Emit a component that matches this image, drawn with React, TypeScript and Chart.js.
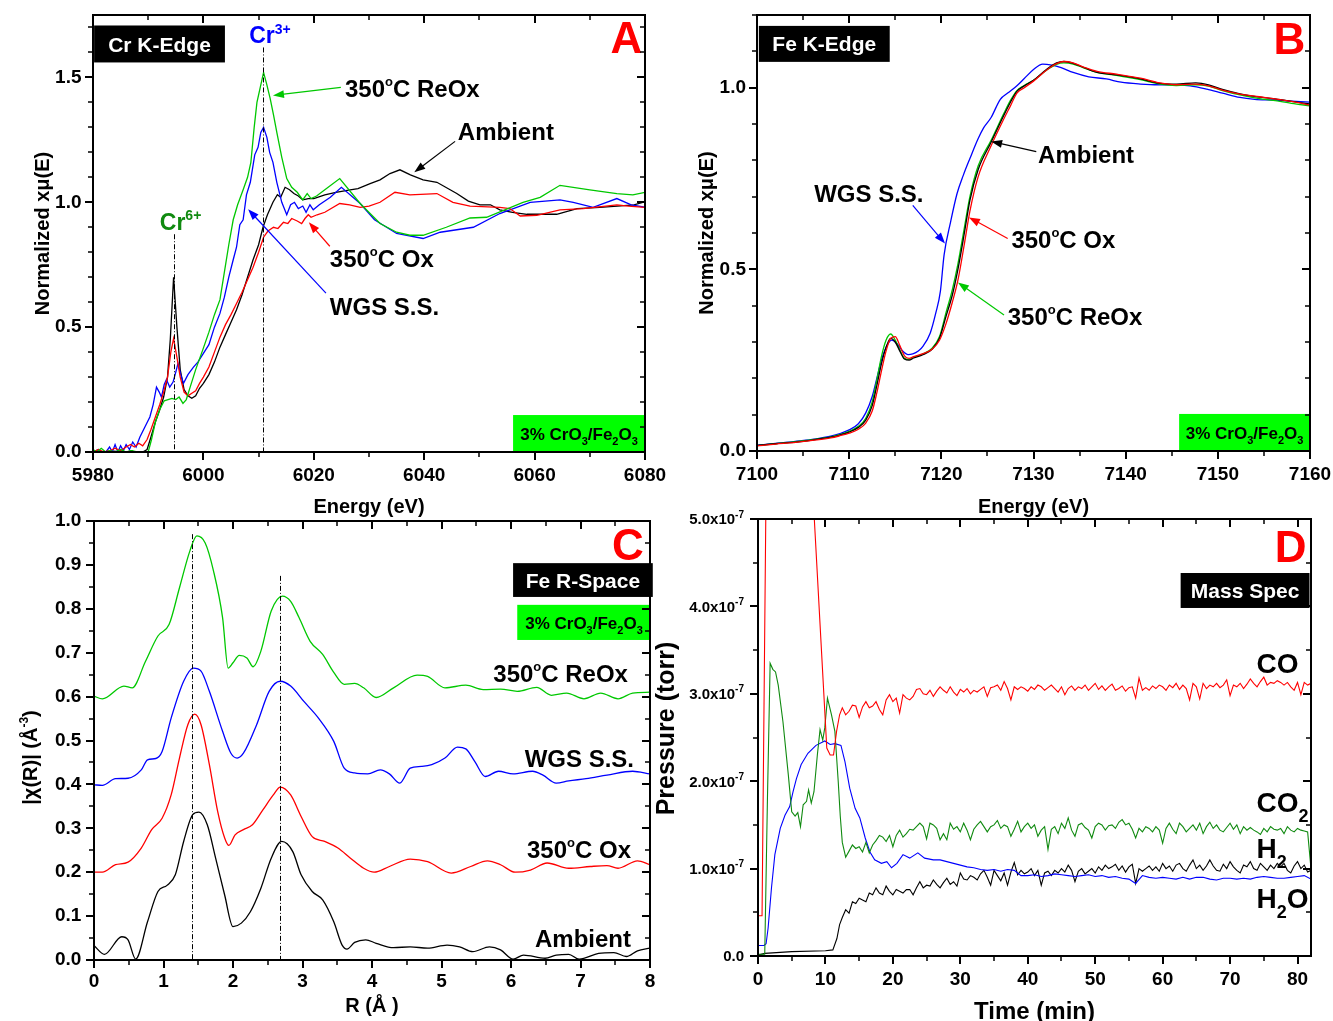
import React, { useEffect, useRef } from "react";
import { Chart, registerables } from "chart.js";
Chart.register(...registerables);

const FONT = '"Liberation Sans", Arial, Helvetica, sans-serif';
const PAGE_W = 1333;
const PAGE_H = 1021;

const RED = "#ff0000";
const BLUE = "#0000ff";
const BLACK = "#000000";
const GREEN = "#00c800";
const DGREEN = "#108a10";
const LIME = "#00ff00";

// ---------------- Panel A : Cr K-edge ----------------
const A_AMB_E = [5980,5981,5982,5983,5984,5985,5986,5987,5988,5989,5989.8,5990.5,5991.3,5992.1,5992.8,5993.5,5994.0,5994.6,5995.2,5995.8,5996.5,5997.2,5997.9,5998.6,5999.3,6000,6001,6002,6003,6004,6005,6006,6007,6008,6009,6010,6010.8,6011.6,6012.6,6013.4,6014,6014.8,6015.6,6016.4,6017.2,6018,6019,6020,6022,6024,6026.6,6028,6030.2,6032,6033.8,6035.6,6037.5,6039.8,6042.3,6045.9,6048,6050.1,6052,6053.7,6056,6058.6,6062,6064,6067.7,6071.8,6075,6078,6079.6,6080];
const A_AMB_V = [0.0,0.005,-0.005,0.0,0.003,-0.01,0.0,0.005,-0.005,0.0,0.01,0.06,0.12,0.17,0.22,0.30,0.45,0.70,0.50,0.33,0.25,0.225,0.215,0.225,0.255,0.275,0.31,0.36,0.42,0.47,0.52,0.57,0.63,0.70,0.77,0.83,0.90,0.95,1.00,1.03,1.02,1.06,1.05,1.035,1.025,1.01,1.015,1.015,1.03,1.04,1.05,1.055,1.075,1.09,1.115,1.13,1.11,1.09,1.08,1.035,1.005,0.99,0.99,0.97,0.96,0.952,0.952,0.952,0.975,0.98,0.985,0.99,1.0,1.0];

const A_OX_E = [5980,5981,5982,5983,5984,5985,5986,5986.8,5987.5,5988.3,5989,5989.8,5990.5,5991.3,5992.1,5992.8,5993.5,5994.1,5994.6,5995.2,5995.8,5996.5,5997.2,5997.9,5998.6,5999.3,6000,6001,6002,6003,6004,6005,6006,6007,6008,6009,6010,6010.9,6011.7,6012.7,6013.5,6014.5,6015.3,6016,6017,6017.8,6018.4,6019,6019.5,6020.6,6022,6024.7,6026.5,6028.4,6030,6032,6034.7,6037.4,6042.3,6045.2,6048.3,6053.7,6055.5,6057.4,6060.4,6064.6,6068.8,6074.9,6077,6080];
const A_OX_V = [0.0,0.01,0.0,0.005,0.015,0.005,0.02,0.03,0.02,0.035,0.025,0.05,0.09,0.14,0.19,0.24,0.30,0.40,0.455,0.38,0.30,0.24,0.225,0.235,0.245,0.275,0.30,0.34,0.40,0.46,0.51,0.55,0.595,0.64,0.69,0.74,0.80,0.86,0.885,0.90,0.895,0.92,0.915,0.935,0.925,0.915,0.935,0.95,0.94,0.95,0.96,0.995,0.99,0.98,0.985,1.0,1.04,1.03,1.035,1.0,0.985,0.98,0.975,0.945,0.948,0.97,0.975,0.99,0.985,0.98];

const A_REOX_E = [5980,5980.7,5981.5,5982.3,5983,5984,5985,5986,5987,5988,5989,5990,5990.6,5991.3,5992.1,5992.9,5993.6,5994.3,5995,5995.6,5996.3,5996.9,5997.6,5998.6,5999.9,6001,6002,6003,6003.8,6004.6,6005.4,6006.2,6007.2,6008,6008.6,6009.2,6009.7,6010.3,6010.9,6011.5,6012.1,6012.7,6013.3,6014.2,6015.1,6016,6017,6018,6018.8,6019.5,6020.5,6022.3,6024.7,6028.4,6032,6035,6037.4,6039.8,6044,6048.3,6051.3,6057.9,6061,6064.6,6070,6074.9,6077.8,6080];
const A_REOX_V = [0.01,0.0,0.015,0.0,0.005,0.0,0.01,0.0,0.005,0.0,0.0,0.0,0.05,0.12,0.17,0.205,0.21,0.215,0.21,0.22,0.195,0.21,0.26,0.33,0.41,0.48,0.55,0.61,0.72,0.83,0.93,0.99,1.05,1.10,1.16,1.30,1.40,1.46,1.52,1.47,1.415,1.35,1.28,1.18,1.095,1.06,1.04,1.01,1.035,1.015,1.025,1.055,1.095,0.995,0.915,0.88,0.868,0.868,0.90,0.937,0.94,1.0,1.02,1.068,1.05,1.035,1.03,1.04];

const A_WGS_E = [5980,5981,5982,5983,5983.5,5984,5984.5,5985,5985.5,5986,5986.6,5987.2,5987.8,5988.5,5989.4,5990.3,5990.9,5991.5,5992,5992.4,5992.9,5993.3,5993.9,5994.5,5995,5995.4,5995.9,5996.4,5997.2,5998.2,5999,6000,6001,6002,6003,6003.8,6004.6,6005.4,6006,6006.6,6007.2,6007.8,6008.5,6009.3,6009.9,6010.4,6010.9,6011.5,6012,6012.6,6013.3,6014.2,6015.1,6015.8,6016.5,6017.2,6018,6018.6,6019.3,6019.9,6021,6023,6025,6028.4,6031,6035,6039.8,6042.9,6048.9,6053.7,6059.2,6064.6,6067,6070.6,6074.9,6077.5,6080];
const A_WGS_V = [0.0,0.01,-0.01,0.02,0.0,0.03,0.0,0.025,0.005,0.03,0.01,0.04,0.02,0.06,0.10,0.14,0.19,0.26,0.24,0.22,0.27,0.29,0.26,0.28,0.32,0.355,0.31,0.275,0.31,0.34,0.36,0.395,0.43,0.50,0.555,0.62,0.70,0.77,0.82,0.91,0.93,1.03,1.08,1.19,1.22,1.28,1.30,1.26,1.20,1.16,1.08,1.0,0.95,0.99,1.00,0.975,0.985,0.96,0.99,0.97,0.99,1.02,1.06,0.995,0.93,0.875,0.855,0.88,0.90,0.955,1.0,1.01,1.0,0.98,1.015,0.99,0.98];

// ---------------- Panel B : Fe K-edge ----------------
const B_E = [7100,7102,7104,7106,7108,7109,7110,7111,7111.8,7112.5,7113,7113.5,7114,7114.5,7115,7115.5,7116,7116.5,7117,7118,7119,7119.8,7120.5,7121.2,7121.8,7122.5,7123.1,7124,7125.4,7126.8,7127.5,7128.2,7129,7130,7131.4,7132.5,7133.3,7134.3,7135.5,7136.9,7139,7141.6,7143.7,7145.5,7147.6,7149,7150.5,7152.4,7154.5,7156,7158,7160];
const B_AMB_V = [0.015,0.02,0.024,0.03,0.038,0.044,0.052,0.065,0.085,0.125,0.18,0.24,0.285,0.31,0.30,0.275,0.253,0.25,0.256,0.265,0.28,0.31,0.37,0.43,0.50,0.60,0.69,0.775,0.85,0.925,0.96,0.99,1.005,1.02,1.05,1.068,1.072,1.067,1.055,1.042,1.035,1.024,1.012,1.01,1.013,1.008,0.995,0.983,0.974,0.97,0.962,0.955];
const B_OX_V = [0.014,0.019,0.023,0.029,0.036,0.042,0.049,0.06,0.077,0.11,0.16,0.22,0.275,0.31,0.315,0.29,0.262,0.255,0.26,0.268,0.28,0.305,0.35,0.41,0.47,0.57,0.66,0.755,0.84,0.915,0.95,0.985,1.0,1.018,1.048,1.066,1.072,1.068,1.056,1.045,1.037,1.026,1.013,1.008,1.01,1.005,0.993,0.982,0.975,0.97,0.962,0.952];
const B_REOX_V = [0.015,0.02,0.025,0.031,0.039,0.045,0.054,0.068,0.09,0.135,0.195,0.26,0.305,0.322,0.305,0.278,0.255,0.252,0.258,0.267,0.283,0.315,0.38,0.445,0.515,0.615,0.70,0.785,0.855,0.93,0.965,0.992,1.006,1.02,1.048,1.064,1.068,1.065,1.054,1.042,1.034,1.022,1.01,1.006,1.008,1.004,0.992,0.98,0.97,0.965,0.957,0.95];
const B_WGS_E = [7100,7102,7104,7106,7108,7109,7110,7111,7111.8,7112.5,7113,7113.5,7114,7114.6,7115.2,7115.8,7116.4,7116.9,7117.5,7118,7118.8,7119.4,7119.9,7120.3,7121,7121.7,7122.4,7123.1,7124,7124.6,7125.4,7126.4,7127.2,7128.2,7129,7130,7131,7132,7133,7134.3,7136,7137.9,7139.5,7141.6,7143.5,7145.2,7147,7148.8,7150.5,7152.4,7154,7156,7158,7160];
const B_WGS_V = [0.016,0.021,0.026,0.032,0.041,0.048,0.058,0.075,0.105,0.15,0.20,0.25,0.285,0.305,0.295,0.275,0.265,0.267,0.275,0.288,0.325,0.38,0.44,0.54,0.63,0.708,0.76,0.805,0.86,0.89,0.918,0.968,0.985,1.005,1.025,1.05,1.065,1.062,1.055,1.042,1.03,1.024,1.015,1.01,1.008,1.008,1.005,0.996,0.985,0.973,0.968,0.966,0.963,0.96];

// ---------------- Panel C : Fe R-space ----------------
const C_REOX_R = [0,0.12,0.43,0.55,0.74,0.92,1.08,1.23,1.38,1.48,1.6,1.72,1.85,1.93,2.0,2.09,2.2,2.29,2.4,2.55,2.71,2.83,2.95,3.11,3.29,3.45,3.6,3.75,3.88,4.06,4.31,4.65,4.8,5.05,5.35,5.6,5.85,6.09,6.37,6.58,6.8,7.05,7.29,7.54,7.75,8];
const C_REOX_V = [0.601,0.595,0.624,0.62,0.68,0.738,0.764,0.848,0.932,0.966,0.95,0.886,0.78,0.665,0.677,0.694,0.688,0.668,0.703,0.795,0.829,0.817,0.78,0.726,0.696,0.655,0.628,0.63,0.62,0.598,0.62,0.649,0.646,0.62,0.626,0.616,0.617,0.612,0.621,0.603,0.608,0.595,0.608,0.595,0.608,0.61];
const C_WGS_R = [0,0.12,0.31,0.49,0.68,0.77,0.89,0.98,1.11,1.29,1.43,1.54,1.66,1.85,1.97,2.06,2.15,2.34,2.52,2.68,2.83,3.02,3.23,3.45,3.6,3.75,3.94,4.12,4.25,4.4,4.55,4.71,4.86,5.05,5.23,5.35,5.48,5.63,5.82,6.03,6.31,6.46,6.65,6.83,7.08,7.38,7.75,8];
const C_WGS_V = [0.399,0.398,0.413,0.414,0.433,0.456,0.459,0.475,0.551,0.635,0.665,0.658,0.612,0.521,0.471,0.46,0.471,0.536,0.612,0.635,0.624,0.589,0.551,0.498,0.437,0.426,0.424,0.433,0.424,0.403,0.437,0.441,0.445,0.46,0.485,0.481,0.452,0.418,0.43,0.424,0.43,0.421,0.403,0.408,0.413,0.421,0.43,0.424];
const C_OX_R = [0,0.12,0.31,0.49,0.68,0.83,0.98,1.11,1.23,1.35,1.45,1.54,1.66,1.78,1.88,1.94,2.03,2.15,2.28,2.43,2.58,2.68,2.83,2.98,3.14,3.32,3.51,3.69,3.88,4.03,4.25,4.55,4.8,5.14,5.42,5.66,5.85,6.06,6.28,6.52,6.83,7.14,7.38,7.54,7.82,8];
const C_OX_V = [0.2,0.2,0.217,0.223,0.255,0.297,0.323,0.376,0.46,0.536,0.56,0.536,0.445,0.338,0.278,0.261,0.285,0.297,0.308,0.342,0.376,0.394,0.376,0.327,0.281,0.27,0.255,0.232,0.209,0.2,0.213,0.23,0.224,0.198,0.213,0.226,0.217,0.2,0.205,0.221,0.209,0.213,0.215,0.209,0.226,0.217];
const C_AMB_R = [0,0.15,0.4,0.49,0.6,0.77,0.92,1.05,1.17,1.29,1.42,1.51,1.63,1.75,1.88,2.0,2.12,2.25,2.4,2.55,2.7,2.86,2.98,3.14,3.29,3.45,3.57,3.64,3.75,3.91,4.06,4.31,4.55,4.8,5.08,5.26,5.45,5.69,5.85,6.03,6.18,6.49,6.65,6.83,6.98,7.26,7.48,7.66,7.82,8];
const C_AMB_V = [0.033,0.013,0.053,0.046,0.002,0.087,0.156,0.17,0.194,0.27,0.331,0.337,0.308,0.232,0.148,0.076,0.084,0.11,0.163,0.232,0.27,0.247,0.194,0.156,0.137,0.087,0.034,0.025,0.04,0.046,0.038,0.028,0.03,0.027,0.034,0.03,0.019,0.03,0.023,0.002,0.011,0.004,0.011,0.013,0.002,0.015,0.017,0.008,0.021,0.027];

// ---------------- Panel D : Mass spec (pressure in units of 1e-7 torr) ----------------
const D_TAIL_T = [12.5,13,13.5,14,14.5,15,15.5,16,16.5,17,17.5,18,18.5,19,19.5,20,20.5,21,21.5,22,22.5,23,23.5,24,24.5,25,25.5,26,26.5,27,27.5,28,28.5,29,29.5,30,30.5,31,31.5,32,32.5,33,33.5,34,34.5,35,35.5,36,36.5,37,37.5,38,38.5,39,39.5,40,40.5,41,41.5,42,42.5,43,43.5,44,44.5,45,45.5,46,46.5,47,47.5,48,48.5,49,49.5,50,50.5,51,51.5,52,52.5,53,53.5,54,54.5,55,55.5,56,56.5,57,57.5,58,58.5,59,59.5,60,60.5,61,61.5,62,62.5,63,63.5,64,64.5,65,65.5,66,66.5,67,67.5,68,68.5,69,69.5,70,70.5,71,71.5,72,72.5,73,73.5,74,74.5,75,75.5,76,76.5,77,77.5,78,78.5,79,79.5,80,80.5,81,81.5,82];

const D_CO_T_HEAD = [0,0.6,1.2,1.6,7.9,8.35,10.2,10.7,11.2,11.65,12.1];
const D_CO_P_HEAD = [0.46,0.46,5.4,8.5,8.5,5.0,2.38,2.30,2.30,2.57,2.76];
const D_CO_P_TAIL = [
  2.84,2.76,2.80,2.87,2.86,2.73,2.85,2.91,2.84,2.86,
  2.91,2.82,2.76,2.93,2.99,2.91,2.95,2.78,2.99,2.95,
  2.93,2.97,3.05,3.06,3.00,2.99,3.04,2.97,3.03,3.08,
  3.04,3.01,3.08,3.02,2.98,3.05,3.02,3.06,3.00,3.04,
  3.02,3.05,3.08,2.97,3.07,3.08,3.10,3.04,3.14,3.06,
  2.93,3.08,3.05,3.08,3.06,3.03,3.08,3.05,3.10,3.08,
  3.04,3.07,3.10,3.06,3.02,3.08,2.99,3.06,3.09,3.04,
  3.08,3.06,3.10,3.04,3.08,3.12,3.05,3.09,3.04,3.08,
  3.11,3.04,3.06,3.09,3.03,3.07,3.08,2.95,3.18,3.04,
  3.07,3.04,3.09,3.06,3.10,3.08,3.04,3.10,3.07,3.12,
  3.05,3.10,3.06,2.93,3.12,3.08,2.94,3.12,3.06,3.10,
  3.08,3.12,3.07,3.10,3.16,2.98,3.10,3.08,3.12,3.06,
  3.11,3.17,3.12,3.08,3.14,3.19,3.10,3.13,3.12,3.15,
  3.13,3.10,3.13,3.08,3.04,3.13,2.99,3.13,3.10,3.12];

const D_CO2_T_HEAD = [0,1.0,1.4,1.8,2.2,2.6,3.0,3.7,4.5,5.0,5.5,5.9,6.3,6.7,7.2,7.5,7.9,8.3,8.8,9.2,9.6,9.9,10.3,10.9,11.4,11.9,12.2];
const D_CO2_P_HEAD = [0.02,0.02,1.8,3.35,3.28,3.25,3.10,2.68,2.07,1.65,1.60,1.64,1.48,1.73,1.77,1.90,1.75,1.88,2.30,2.59,2.47,2.61,2.95,2.76,2.57,1.99,1.6];
const D_CO2_P_TAIL = [
  1.30,1.13,1.20,1.27,1.23,1.25,1.19,1.30,1.18,1.27,
  1.32,1.38,1.36,1.31,1.38,1.25,1.38,1.44,1.36,1.40,
  1.45,1.44,1.48,1.52,1.48,1.34,1.52,1.50,1.46,1.33,
  1.40,1.33,1.52,1.45,1.48,1.42,1.52,1.44,1.33,1.45,
  1.50,1.54,1.48,1.42,1.48,1.50,1.55,1.46,1.50,1.48,
  1.37,1.45,1.54,1.42,1.48,1.52,1.46,1.50,1.37,1.44,
  1.48,1.22,1.45,1.48,1.40,1.52,1.46,1.58,1.44,1.37,
  1.50,1.52,1.47,1.44,1.35,1.48,1.52,1.50,1.44,1.49,
  1.50,1.46,1.53,1.56,1.50,1.52,1.45,1.35,1.46,1.42,
  1.48,1.46,1.42,1.48,1.44,1.29,1.46,1.52,1.45,1.40,
  1.52,1.48,1.42,1.46,1.50,1.44,1.52,1.40,1.48,1.53,
  1.46,1.50,1.44,1.42,1.47,1.52,1.45,1.50,1.40,1.48,
  1.44,1.47,1.44,1.42,1.39,1.46,1.42,1.48,1.45,1.44,
  1.46,1.40,1.48,1.44,1.42,1.46,1.44,1.43,1.42,1.00];

const D_H2O_T_HEAD = [0,1,5,10,11.1,11.7,12.1];
const D_H2O_P_HEAD = [0.01,0.03,0.05,0.06,0.07,0.2,0.36];
const D_H2O_P_TAIL = [
  0.44,0.53,0.49,0.62,0.60,0.66,0.64,0.62,0.72,0.70,
  0.78,0.72,0.70,0.80,0.74,0.70,0.76,0.74,0.72,0.76,
  0.76,0.70,0.78,0.85,0.78,0.81,0.80,0.87,0.82,0.78,
  0.84,0.89,0.82,0.85,0.80,0.95,0.88,0.87,0.92,0.90,
  0.87,0.94,0.98,0.90,0.81,0.98,0.92,0.86,0.95,0.81,
  0.96,1.07,0.93,0.98,0.94,0.96,1.00,0.92,0.98,0.81,
  0.95,0.97,0.92,0.98,0.95,1.00,0.96,1.04,0.98,0.85,
  0.97,1.00,0.94,0.97,1.00,0.95,1.02,0.98,1.04,1.00,
  1.02,1.05,0.98,1.03,0.96,1.02,1.05,0.83,1.00,0.97,
  1.00,1.03,0.98,1.02,0.97,1.06,1.00,1.03,0.97,1.04,
  1.06,1.00,0.97,1.04,1.10,1.00,1.04,0.98,1.03,1.10,
  1.03,0.98,0.97,1.05,1.00,1.08,1.02,0.98,0.95,1.04,
  1.02,1.08,1.00,0.98,1.06,1.02,0.98,1.04,1.00,1.06,
  1.02,1.06,0.98,0.95,1.03,1.08,1.00,1.04,0.96,0.98];

const D_H2_T = [0,0.9,1.2,1.5,2.0,2.5,3.3,4.0,4.7,5.2,5.7,6.4,7.4,8.6,9.9,10.7,11.4,12.3,12.9,13.6,14.4,15.1,15.9,16.6,17.3,18.3,19.1,19.8,20.6,21.5,22.5,23.7,24.7,26,
  27,28,29,30,31,32,33,34,35,36,37,38,39,40,41,42,43,44,45,46,47,48,49,50,51,52,53,54,55,56,57,58,59,60,61,62,63,64,65,66,67,68,69,70,71,72,73,74,75,76,77,78,79,80,81,82];
const D_H2_P = [0.12,0.12,0.14,0.32,0.78,1.16,1.46,1.61,1.71,1.88,2.03,2.19,2.32,2.41,2.46,2.42,2.43,2.41,2.22,1.92,1.69,1.58,1.35,1.19,1.10,1.06,1.08,1.01,1.06,1.16,1.12,1.18,1.12,1.10,
  1.10,1.08,1.06,1.04,1.02,1.01,0.99,0.98,0.99,0.97,0.99,0.98,0.92,0.92,0.93,0.91,0.92,0.94,0.93,0.92,0.91,0.92,0.93,0.91,0.92,0.90,0.91,0.89,0.88,0.83,0.92,0.90,0.89,0.90,0.89,0.88,0.90,0.88,0.90,0.90,0.88,0.87,0.89,0.89,0.88,0.89,0.88,0.90,0.91,0.90,0.89,0.89,0.90,0.91,0.92,0.88];

// ---------------- helpers ----------------
type Seg = { t: string; s?: "sup" | "sub" };
type Annot =
  | { kind: "text"; x: number; y: number; segs: Seg[]; size: number; color: string; align?: "left" | "center" | "right"; small?: number; subOff?: number; supOff?: number }
  | { kind: "box"; x1: number; y1: number; x2: number; y2: number; fill: string; segs: Seg[]; size: number; color: string; small?: number; subOff?: number }
  | { kind: "arrow"; x1: number; y1: number; x2: number; y2: number; color: string }
  | { kind: "vline"; x: number; y1: number; y2: number };

interface AxisCfg { min: number; max: number; major: number; minor: number; pad: number; decimals: number; show: boolean; }
interface Series { xs: number[]; ys: number[]; color: string; smooth?: boolean; width?: number; }
interface PanelCfg {
  area: { l: number; t: number; r: number; b: number };
  x: AxisCfg; y: AxisCfg;
  series: Series[];
  annots: Annot[];
  xTitle: { segs: Seg[]; size: number; dy: number };
  yTitle: { segs: Seg[]; size: number; dx: number; dyc: number };
  yCustom?: boolean;
}

const pts = (xs: number[], ys: number[]) => xs.map((x, i) => ({ x, y: ys[i] }));
const font = (size: number) => `bold ${size}px ${FONT}`;

function drawRich(ctx: CanvasRenderingContext2D, segs: Seg[], x: number, y: number, size: number, color: string,
  align: "left" | "center" | "right", small = 0.6, subOff = 0.3, supOff = 0.45) {
  const sm = Math.round(size * small);
  const widths: number[] = [];
  let w = 0;
  segs.forEach((s) => { ctx.font = font(s.s ? sm : size); const m = ctx.measureText(s.t).width; widths.push(m); w += m; });
  let cx = align === "center" ? x - w / 2 : align === "right" ? x - w : x;
  ctx.fillStyle = color; ctx.textAlign = "left"; ctx.textBaseline = "alphabetic";
  segs.forEach((s, i) => {
    ctx.font = font(s.s ? sm : size);
    const dy = s.s === "sup" ? -size * supOff : s.s === "sub" ? size * subOff : 0;
    ctx.fillText(s.t, cx, y + dy);
    cx += widths[i];
  });
}

function decorPlugin(cfg: PanelCfg) {
  return {
    id: "decor",
    afterDatasetsDraw(chart: any) {
      const ctx: CanvasRenderingContext2D = chart.ctx;
      const xs = chart.scales.x, ys = chart.scales.y;
      const X = (v: number) => xs.getPixelForValue(v);
      const Y = (v: number) => ys.getPixelForValue(v);
      const { left, right, top, bottom } = chart.chartArea;
      ctx.save();
      for (const a of cfg.annots) {
        if (a.kind === "vline") {
          ctx.save();
          ctx.strokeStyle = "#000"; ctx.lineWidth = 1; ctx.setLineDash([5, 2, 1, 2]);
          ctx.beginPath(); ctx.moveTo(Math.round(X(a.x)) + 0.5, Y(a.y1)); ctx.lineTo(Math.round(X(a.x)) + 0.5, Y(a.y2)); ctx.stroke();
          ctx.restore();
        } else if (a.kind === "arrow") {
          const x1 = X(a.x1), y1 = Y(a.y1), x2 = X(a.x2), y2 = Y(a.y2);
          const ang = Math.atan2(y2 - y1, x2 - x1);
          const L = 11, Wd = 4;
          ctx.strokeStyle = a.color; ctx.fillStyle = a.color; ctx.lineWidth = 1.2;
          ctx.beginPath(); ctx.moveTo(x1, y1); ctx.lineTo(x2 - Math.cos(ang) * L * 0.8, y2 - Math.sin(ang) * L * 0.8); ctx.stroke();
          ctx.beginPath();
          ctx.moveTo(x2, y2);
          ctx.lineTo(x2 - Math.cos(ang) * L - Math.sin(ang) * Wd, y2 - Math.sin(ang) * L + Math.cos(ang) * Wd);
          ctx.lineTo(x2 - Math.cos(ang) * L + Math.sin(ang) * Wd, y2 - Math.sin(ang) * L - Math.cos(ang) * Wd);
          ctx.closePath(); ctx.fill();
        } else if (a.kind === "box") {
          const x1 = X(a.x1), y1 = Y(a.y1), x2 = X(a.x2), y2 = Y(a.y2);
          ctx.fillStyle = a.fill;
          ctx.fillRect(Math.min(x1, x2), Math.min(y1, y2), Math.abs(x2 - x1), Math.abs(y2 - y1));
          drawRich(ctx, a.segs, (x1 + x2) / 2, (y1 + y2) / 2 + a.size * 0.36, a.size, a.color, "center", a.small ?? 0.62, a.subOff ?? 0.3);
        } else if (a.kind === "text") {
          drawRich(ctx, a.segs, X(a.x), Y(a.y), a.size, a.color, a.align ?? "left", a.small ?? 0.55, a.subOff ?? 0.3, a.supOff ?? 0.45);
        }
      }
      ctx.strokeStyle = "#000"; ctx.lineWidth = 2; ctx.setLineDash([]);
      ctx.strokeRect(left, top, right - left, bottom - top);
      const tick = (ax: AxisCfg, horiz: boolean) => {
        const n = Math.floor((ax.max - ax.min) / ax.minor + 1e-6);
        const ratio = Math.round(ax.major / ax.minor);
        for (let i = 0; i <= n; i++) {
          const v = ax.min + i * ax.minor;
          const isMajor = i % ratio === 0;
          const len = isMajor ? 8 : 5;
          ctx.lineWidth = isMajor ? 2 : 1.5;
          ctx.beginPath();
          if (horiz) {
            const p = Math.round(X(v));
            ctx.moveTo(p, bottom); ctx.lineTo(p, bottom + len);
            ctx.moveTo(p, top); ctx.lineTo(p, top + len);
          } else {
            const p = Math.round(Y(v));
            ctx.moveTo(left, p); ctx.lineTo(left - len, p);
            ctx.moveTo(right, p); ctx.lineTo(right - len, p);
          }
          ctx.stroke();
        }
      };
      tick(cfg.x, true);
      tick(cfg.y, false);
      if (cfg.yCustom) {
        const n = Math.round((cfg.y.max - cfg.y.min) / cfg.y.major);
        for (let i = 0; i <= n; i++) {
          const v = cfg.y.min + i * cfg.y.major;
          const segs: Seg[] = v === 0 ? [{ t: "0.0" }] : [{ t: `${v.toFixed(1)}x10` }, { t: "-7", s: "sup" }];
          drawRich(ctx, segs, left - cfg.y.pad, Y(v) + 15 * 0.36, 15, "#000", "right", 0.68, 0.3, 0.45);
        }
      }
      const xt = cfg.xTitle;
      drawRich(ctx, xt.segs, (left + right) / 2, bottom + xt.dy + xt.size * 0.36, xt.size, "#000", "center", 0.6, 0.3, 0.45);
      const yt = cfg.yTitle;
      ctx.save();
      ctx.translate(left - yt.dx, (top + bottom) / 2 + yt.dyc);
      ctx.rotate(-Math.PI / 2);
      drawRich(ctx, yt.segs, 0, yt.size * 0.36, yt.size, "#000", "center", 0.6, 0.3, 0.45);
      ctx.restore();
      ctx.restore();
    },
  };
}

const YW = 70;
const XH = 45;

function Panel({ cfg }: { cfg: PanelCfg }) {
  const ref = useRef<HTMLCanvasElement | null>(null);
  useEffect(() => {
    if (!ref.current) return;
    const a = cfg.area;
    const tickFont = { family: FONT, size: 19, weight: "bold" as const };
    const chart = new Chart(ref.current, {
      type: "line",
      data: {
        datasets: cfg.series.map((s) => ({
          data: pts(s.xs, s.ys),
          borderColor: s.color,
          backgroundColor: s.color,
          borderWidth: s.width ?? 1.3,
          pointRadius: 0,
          tension: 0,
          cubicInterpolationMode: s.smooth ? ("monotone" as const) : ("default" as const),
          fill: false,
        })),
      },
      options: {
        responsive: false,
        animation: false,
        devicePixelRatio: 1,
        events: [],
        layout: { padding: { left: a.l - YW, top: a.t, right: PAGE_W - a.r, bottom: PAGE_H - a.b - XH } },
        plugins: { legend: { display: false }, tooltip: { enabled: false }, title: { display: false } },
        scales: {
          x: {
            type: "linear", min: cfg.x.min, max: cfg.x.max,
            afterFit: (s: any) => { s.height = XH; s.paddingLeft = 0; s.paddingRight = 0; s.paddingTop = 0; s.paddingBottom = 0; },
            grid: { display: false, drawTicks: false },
            border: { display: false },
            ticks: {
              display: cfg.x.show, stepSize: cfg.x.major, includeBounds: false, autoSkip: false, maxRotation: 0, minRotation: 0,
              padding: cfg.x.pad, color: "#000", font: tickFont,
              callback: (v: any) => Number(v).toFixed(cfg.x.decimals),
            },
          },
          y: {
            type: "linear", min: cfg.y.min, max: cfg.y.max,
            afterFit: (s: any) => { s.width = YW; s.paddingTop = 0; s.paddingBottom = 0; s.paddingLeft = 0; s.paddingRight = 0; },
            grid: { display: false, drawTicks: false },
            border: { display: false },
            ticks: {
              display: cfg.y.show, stepSize: cfg.y.major, includeBounds: false, autoSkip: false,
              padding: cfg.y.pad, color: "#000", font: tickFont,
              callback: (v: any) => Number(v).toFixed(cfg.y.decimals),
            },
          },
        },
      },
      plugins: [decorPlugin(cfg)],
    } as any);
    return () => chart.destroy();
  }, [cfg]);
  return (
    <canvas ref={ref} width={PAGE_W} height={PAGE_H}
      style={{ position: "absolute", left: 0, top: 0, width: PAGE_W, height: PAGE_H }} />
  );
}

const deg = (label: string): Seg[] => [{ t: "350" }, { t: "o", s: "sup" }, { t: label }];
const CRFE: Seg[] = [{ t: "3% CrO" }, { t: "3", s: "sub" }, { t: "/Fe" }, { t: "2", s: "sub" }, { t: "O" }, { t: "3", s: "sub" }];

const PANEL_A: PanelCfg = {
  area: { l: 93, t: 15, r: 645, b: 452 },
  x: { min: 5980, max: 6080, major: 20, minor: 10, pad: 12, decimals: 0, show: true },
  y: { min: 0, max: 1.75, major: 0.5, minor: 0.1, pad: 11.5, decimals: 1, show: true },
  series: [
    { xs: A_REOX_E, ys: A_REOX_V, color: GREEN },
    { xs: A_OX_E, ys: A_OX_V, color: RED },
    { xs: A_WGS_E, ys: A_WGS_V, color: BLUE },
    { xs: A_AMB_E, ys: A_AMB_V, color: BLACK },
  ],
  annots: [
    { kind: "vline", x: 5994.7, y1: 0.872, y2: 0 },
    { kind: "vline", x: 6010.8, y1: 1.62, y2: 0 },
    { kind: "box", x1: 5980.2, y1: 1.708, x2: 6003.9, y2: 1.56, fill: BLACK, segs: [{ t: "Cr K-Edge" }], size: 21, color: "#fff" },
    { kind: "text", x: 6079.5, y: 1.596, segs: [{ t: "A" }], size: 44, color: RED, align: "right" },
    { kind: "text", x: 6008.3, y: 1.636, segs: [{ t: "Cr" }, { t: "3+", s: "sup" }], size: 23, color: BLUE, small: 0.62, supOff: 0.43 },
    { kind: "text", x: 5992.1, y: 0.888, segs: [{ t: "Cr" }, { t: "6+", s: "sup" }], size: 23, color: DGREEN, small: 0.62, supOff: 0.43 },
    { kind: "text", x: 6025.65, y: 1.422, segs: deg("C ReOx"), size: 24, color: BLACK },
    { kind: "arrow", x1: 6024.9, y1: 1.46, x2: 6012.6, y2: 1.428, color: GREEN },
    { kind: "text", x: 6046.1, y: 1.248, segs: [{ t: "Ambient" }], size: 24, color: BLACK },
    { kind: "arrow", x1: 6045.6, y1: 1.244, x2: 6038.2, y2: 1.12, color: BLACK },
    { kind: "text", x: 6022.9, y: 0.741, segs: deg("C Ox"), size: 24, color: BLACK },
    { kind: "arrow", x1: 6022.9, y1: 0.824, x2: 6019.1, y2: 0.92, color: RED },
    { kind: "text", x: 6022.9, y: 0.548, segs: [{ t: "WGS S.S." }], size: 24, color: BLACK },
    { kind: "arrow", x1: 6022.2, y1: 0.636, x2: 6008.1, y2: 0.972, color: BLUE },
    { kind: "box", x1: 6056.1, y1: 0.148, x2: 6080, y2: 0, fill: LIME, segs: CRFE, size: 17, color: BLACK },
  ],
  xTitle: { segs: [{ t: "Energy (eV)" }], size: 20, dy: 54 },
  yTitle: { segs: [{ t: "Normalized x\u03bc(E)" }], size: 20, dx: 51, dyc: 0 },
};

const PANEL_B: PanelCfg = {
  area: { l: 757, t: 15, r: 1310, b: 451 },
  x: { min: 7100, max: 7160, major: 10, minor: 5, pad: 12.5, decimals: 0, show: true },
  y: { min: 0, max: 1.2, major: 0.5, minor: 0.1, pad: 11, decimals: 1, show: true },
  series: [
    { xs: B_E, ys: B_OX_V, color: RED, smooth: true },
    { xs: B_E, ys: B_AMB_V, color: BLACK, smooth: true },
    { xs: B_E, ys: B_REOX_V, color: GREEN, smooth: true },
    { xs: B_WGS_E, ys: B_WGS_V, color: BLUE, smooth: true },
  ],
  annots: [
    { kind: "box", x1: 7100.2, y1: 1.17, x2: 7114.4, y2: 1.071, fill: BLACK, segs: [{ t: "Fe K-Edge" }], size: 21, color: "#fff" },
    { kind: "text", x: 7159.5, y: 1.093, segs: [{ t: "B" }], size: 44, color: RED, align: "right" },
    { kind: "text", x: 7130.5, y: 0.794, segs: [{ t: "Ambient" }], size: 24, color: BLACK },
    { kind: "arrow", x1: 7130.3, y1: 0.824, x2: 7125.4, y2: 0.852, color: BLACK },
    { kind: "text", x: 7106.2, y: 0.684, segs: [{ t: "WGS S.S." }], size: 24, color: BLACK },
    { kind: "arrow", x1: 7116.9, y1: 0.676, x2: 7120.4, y2: 0.571, color: BLUE },
    { kind: "text", x: 7127.6, y: 0.558, segs: deg("C Ox"), size: 24, color: BLACK },
    { kind: "arrow", x1: 7127.2, y1: 0.585, x2: 7123.0, y2: 0.643, color: RED },
    { kind: "text", x: 7127.2, y: 0.346, segs: deg("C ReOx"), size: 24, color: BLACK },
    { kind: "arrow", x1: 7126.8, y1: 0.374, x2: 7121.8, y2: 0.464, color: GREEN },
    { kind: "box", x1: 7145.8, y1: 0.102, x2: 7160, y2: 0, fill: LIME, segs: CRFE, size: 17, color: BLACK },
  ],
  xTitle: { segs: [{ t: "Energy (eV)" }], size: 20, dy: 55 },
  yTitle: { segs: [{ t: "Normalized x\u03bc(E)" }], size: 20, dx: 51, dyc: 0 },
};

const PANEL_C: PanelCfg = {
  area: { l: 94, t: 521, r: 650, b: 960 },
  x: { min: 0, max: 8, major: 1, minor: 0.5, pad: 10, decimals: 0, show: true },
  y: { min: 0, max: 1.0, major: 0.1, minor: 0.05, pad: 12.7, decimals: 1, show: true },
  series: [
    { xs: C_REOX_R, ys: C_REOX_V, color: GREEN, smooth: true },
    { xs: C_WGS_R, ys: C_WGS_V, color: BLUE, smooth: true },
    { xs: C_OX_R, ys: C_OX_V, color: RED, smooth: true },
    { xs: C_AMB_R, ys: C_AMB_V, color: BLACK, smooth: true },
  ],
  annots: [
    { kind: "vline", x: 1.415, y1: 0.97, y2: 0 },
    { kind: "vline", x: 2.677, y1: 0.875, y2: 0 },
    { kind: "text", x: 7.91, y: 0.911, segs: [{ t: "C" }], size: 44, color: RED, align: "right" },
    { kind: "box", x1: 6.03, y1: 0.904, x2: 8.04, y2: 0.827, fill: BLACK, segs: [{ t: "Fe R-Space" }], size: 21, color: "#fff" },
    { kind: "box", x1: 6.09, y1: 0.809, x2: 8.01, y2: 0.729, fill: LIME, segs: CRFE, size: 17, color: BLACK },
    { kind: "text", x: 7.683, y: 0.633, segs: deg("C ReOx"), size: 24, color: BLACK, align: "right" },
    { kind: "text", x: 7.77, y: 0.44, segs: [{ t: "WGS S.S." }], size: 24, color: BLACK, align: "right" },
    { kind: "text", x: 7.727, y: 0.232, segs: deg("C Ox"), size: 24, color: BLACK, align: "right" },
    { kind: "text", x: 7.727, y: 0.03, segs: [{ t: "Ambient" }], size: 24, color: BLACK, align: "right" },
  ],
  xTitle: { segs: [{ t: "R (\u00c5 )" }], size: 20, dy: 45 },
  yTitle: { segs: [{ t: "|\u03c7(R)| (\u00c5" }, { t: "-3", s: "sup" }, { t: ")" }], size: 20, dx: 64, dyc: 17 },
};

const PANEL_D: PanelCfg = {
  area: { l: 758, t: 519, r: 1311, b: 956 },
  x: { min: 0, max: 82, major: 10, minor: 5, pad: 12.6, decimals: 0, show: true },
  y: { min: 0, max: 5, major: 1, minor: 0.5, pad: 14, decimals: 1, show: false },
  yCustom: true,
  series: [
    { xs: [...D_CO_T_HEAD, ...D_TAIL_T], ys: [...D_CO_P_HEAD, ...D_CO_P_TAIL], color: RED, width: 1.1 },
    { xs: [...D_CO2_T_HEAD, ...D_TAIL_T], ys: [...D_CO2_P_HEAD, ...D_CO2_P_TAIL], color: DGREEN, width: 1.1 },
    { xs: D_H2_T, ys: D_H2_P, color: BLUE, width: 1.1 },
    { xs: [...D_H2O_T_HEAD, ...D_TAIL_T], ys: [...D_H2O_P_HEAD, ...D_H2O_P_TAIL], color: BLACK, width: 1.1 },
  ],
  annots: [
    { kind: "text", x: 81.33, y: 4.508, segs: [{ t: "D" }], size: 44, color: RED, align: "right" },
    { kind: "box", x1: 62.67, y1: 4.382, x2: 81.78, y2: 3.982, fill: BLACK, segs: [{ t: "Mass Spec" }], size: 21, color: "#fff" },
    { kind: "text", x: 73.93, y: 3.238, segs: [{ t: "CO" }], size: 28, color: BLACK },
    { kind: "text", x: 73.93, y: 1.648, segs: [{ t: "CO" }, { t: "2", s: "sub" }], size: 28, color: BLACK, small: 0.64, subOff: 0.36 },
    { kind: "text", x: 73.93, y: 1.121, segs: [{ t: "H" }, { t: "2", s: "sub" }], size: 28, color: BLACK, small: 0.64, subOff: 0.36 },
    { kind: "text", x: 73.93, y: 0.549, segs: [{ t: "H" }, { t: "2", s: "sub" }, { t: "O" }], size: 28, color: BLACK, small: 0.64, subOff: 0.36 },
  ],
  xTitle: { segs: [{ t: "Time (min)" }], size: 24, dy: 54 },
  yTitle: { segs: [{ t: "Pressure (torr)" }], size: 25, dx: 93, dyc: -9 },
};

export default function App() {
  useEffect(() => {
    document.body.style.margin = "0";
    document.body.style.background = "#fff";
  }, []);
  return (
    <div style={{ position: "absolute", left: 0, top: 0, width: PAGE_W, height: PAGE_H, overflow: "hidden", background: "#fff" }}>
      <Panel cfg={PANEL_A} />
      <Panel cfg={PANEL_B} />
      <Panel cfg={PANEL_C} />
      <Panel cfg={PANEL_D} />
    </div>
  );
}
